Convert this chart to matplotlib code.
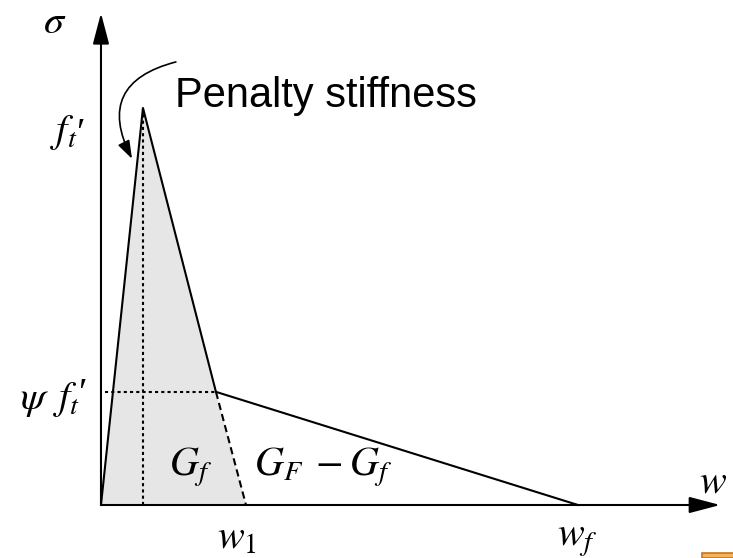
import matplotlib
matplotlib.use("Agg")
import matplotlib.pyplot as plt
from matplotlib.patches import FancyArrowPatch, Polygon, Rectangle

plt.rcParams['mathtext.fontset'] = 'stix'

# softening law (normalised: w_f = 1, f_t' = 1)
w_pts = [0.0, 0.088, 0.241, 1.0]
sigma_pts = [0.0, 1.0, 0.285, 0.0]
w_peak = 0.088
w_knee = 0.241
psi = 0.285
w1 = 0.304

# G_f area under the first branch
shade_w = [0.0, w_peak, w_knee, w1]
shade_s = [0.0, 1.0, psi, 0.0]

fig = plt.figure(figsize=(7.33, 5.58), dpi=100)
ax = fig.add_axes([0, 0, 1, 1])
ax.set_xlim(-0.2117, 1.3249)
ax.set_ylim(-0.1335, 1.2720)
ax.axis('off')

ax.add_patch(Polygon(list(zip(shade_w, shade_s)), closed=True,
                     facecolor='#e6e6e6', edgecolor='none', zorder=1))

# axes with arrow heads
for end in [(1.298, 0.0), (0.0, 1.239)]:
    ax.add_patch(FancyArrowPatch((0.0, 0.0), end,
                                 arrowstyle='-|>,head_length=19,head_width=5',
                                 mutation_scale=1, lw=1.5, color='black',
                                 shrinkA=0, shrinkB=0, zorder=4))

ax.plot(w_pts, sigma_pts, color='black', lw=1.5, zorder=3)
ax.plot([w_peak, w_peak], [0, 1.0], color='black', lw=1.5,
        ls=(0, (1.5, 1.5)), zorder=2)
ax.plot([0.008, w_knee], [psi, psi], color='black', lw=1.5,
        ls=(0, (1.5, 1.5)), zorder=2)
ax.plot([w_knee, w1], [psi, 0], color='black', lw=1.5,
        ls=(0, (3.5, 2.0)), zorder=2)

# penalty stiffness pointer
ax.add_patch(FancyArrowPatch((0.157, 1.116), (0.065, 0.872),
                             connectionstyle='arc3,rad=0.62',
                             arrowstyle='-|>,head_length=11,head_width=3.8',
                             mutation_scale=1, lw=1.2, color='black',
                             shrinkA=0, shrinkB=0))
ax.text(0.155, 1.003, 'Penalty stiffness', fontsize=30,
        family='Liberation Sans', ha='left', va='baseline')

fs = 29
ax.text(-0.0964, 1.217, r'$\sigma$', fontsize=fs, ha='center', va='center')
ax.text(-0.0776, 0.9395, r"$f_t$", fontsize=fs, ha='center', va='center')
ax.text(-0.043, 0.907, '\u2032', fontsize=28, family='Liberation Serif',
        ha='center', va='baseline')
ax.text(-0.107, 0.267, r"$\psi\ \,f_t$", fontsize=fs, ha='center', va='center')
ax.text(-0.040, 0.252, '\u2032', fontsize=28, family='Liberation Serif',
        ha='center', va='baseline')
ax.text(0.188, 0.096, r'$G_f$', fontsize=fs, ha='center', va='center')
ax.text(0.465, 0.096, r'$G_F\; - G_f$', fontsize=fs, ha='center', va='center')
ax.text(w1 - 0.02, -0.083, r'$w_1$', fontsize=fs, ha='center', va='center')
ax.text(1.0 - 0.002, -0.085, r'$w_f$', fontsize=fs, ha='center', va='center')
ax.text(1.283, 0.058, r'$w$', fontsize=fs, ha='center', va='center')

# small clipped icon in the corner
ax.add_patch(Rectangle((1.260, -0.1335), 0.07, 0.012, facecolor='#f2b45a',
                       edgecolor='#c8741e', lw=1.2, clip_on=False))

fig.savefig('out.png', dpi=100)
